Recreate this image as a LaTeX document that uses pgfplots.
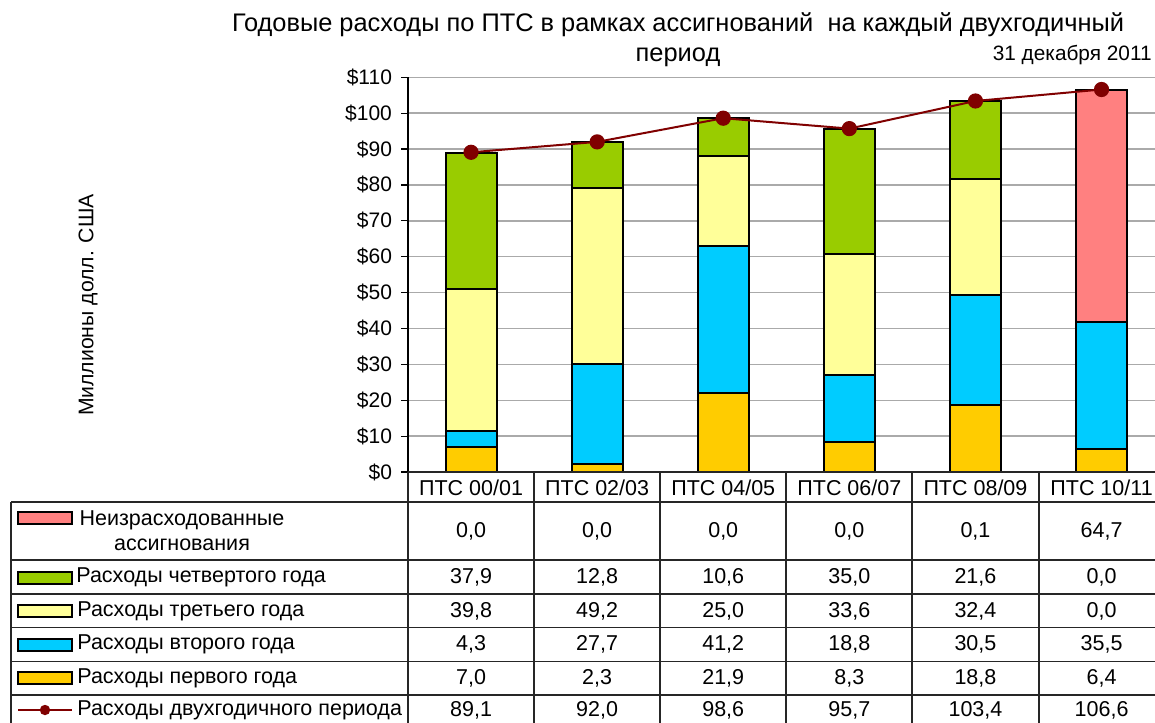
\documentclass[border=0pt]{standalone}
\usepackage{fontspec}
\setmainfont{Liberation Sans}
\usepackage{pgfplots}
\pgfplotsset{compat=1.18}
\usepackage{pgfplotstable}

\definecolor{cPink}{HTML}{FF8080}
\definecolor{cGreen}{HTML}{99CC00}
\definecolor{cYellow}{HTML}{FFFF99}
\definecolor{cCyan}{HTML}{00CCFF}
\definecolor{cGold}{HTML}{FFCC00}
\definecolor{cLine}{HTML}{800000}
\definecolor{cGrid}{RGB}{170,170,170}

\pgfplotstableread{
x first second third fourth unspent total
0 7.0  4.3  39.8 37.9 0.0  89.1
1 2.3  27.7 49.2 12.8 0.0  92.0
2 21.9 41.2 25.0 10.6 0.0  98.6
3 8.3  18.8 33.6 35.0 0.0  95.7
4 18.8 30.5 32.4 21.6 0.1  103.4
5 6.4  35.5 0.0  0.0  64.7 106.6
}\datatable

\newcommand\tf{\fontsize{10.75}{12.5}\selectfont}

\begin{document}
\begin{tikzpicture}
\useasboundingbox[fill=white] (0,0) rectangle (577.5pt,-361pt);
\pgfplotsset{
  common/.style={
    scale only axis, width=378.3pt, height=197.35pt,
    at={(204pt,-236pt)}, anchor=south west,
    xmin=-0.5, xmax=5.5, ymin=0, ymax=110,
  }
}
\begin{axis}[common,
  ybar stacked, bar width=25.5pt,
  axis x line=none, axis y line*=left, axis line style={-, black, line width=0.6pt},
  xtick=\empty,
  ytick={0,10,...,110},
  yticklabels={\$0,\$10,\$20,\$30,\$40,\$50,\$60,\$70,\$80,\$90,\$100,\$110},
  yticklabel style={font=\fontsize{10.5}{12}\selectfont, xshift=-1pt},
  tick align=outside, major tick length=3.5pt,
  tick style={black, line width=0.6pt},
  ymajorgrids, grid style={cGrid, line width=0.7pt},
  every axis plot/.append style={draw=black, line width=1pt},
]
\addplot[fill=cGold]   table[x=x,y=first]{\datatable};
\addplot[fill=cCyan]   table[x=x,y=second]{\datatable};
\addplot[fill=cYellow] table[x=x,y=third]{\datatable};
\addplot[fill=cGreen]  table[x=x,y=fourth]{\datatable};
\addplot[fill=cPink]   table[x=x,y=unspent]{\datatable};
\end{axis}
\begin{axis}[common, hide axis]
\addplot[cLine, line width=1pt, mark=*, mark size=3.3pt, mark options={fill=cLine, draw=cLine}]
  table[x=x,y=total]{\datatable};
\end{axis}

\begin{scope}[x=0.5pt, y=-0.5pt]
% title
\node[font=\fontsize{12.7}{15}\selectfont] at (678,25) {Годовые расходы по ПТС в рамках ассигнований\ \ на каждый двухгодичный};
\node[font=\fontsize{12.7}{15}\selectfont] at (678,57) {период};
\node[font=\fontsize{10.4}{12}\selectfont, anchor=east, inner sep=0pt] at (1152,55) {31 декабря 2011};
% y label
\node[font=\fontsize{10.6}{12}\selectfont, rotate=90] at (88,305) {Миллионы долл. США};
% table grid
\draw[black!85, line width=0.6pt] (408,472) -- (1165,472);
\foreach \yy in {502,560,594,627.5,661.5,695} \draw[black!85, line width=0.6pt] (11,\yy) -- (1165,\yy);
\draw[black!85, line width=0.6pt] (11,502) -- (11,730);
\foreach \xx in {408,534,660,786,912,1039,1165} \draw[black!85, line width=0.6pt] (\xx,472) -- (\xx,730);
% headers
\foreach \lab [count=\i from 0] in {ПТС 00/01,ПТС 02/03,ПТС 04/05,ПТС 06/07,ПТС 08/09,ПТС 10/11}
  \node[font=\tf] at ({408+126.1*(\i+0.5)},488) {\lab};
% values
\foreach \col/\yy in {unspent/531,fourth/577,third/611,second/644.5,first/678,total/710}{
  \foreach \i in {0,...,5}{
    \pgfplotstablegetelem{\i}{\col}\of\datatable
    \node[font=\tf] at ({408+126.1*(\i+0.5)},\yy)
      {\pgfmathprintnumber[fixed, fixed zerofill, precision=1, use comma, assume math mode=true]{\pgfplotsretval}};
  }
}
% legend keys
\draw[fill=cPink,   line width=1pt] (18,512) rectangle (72,524);
\draw[fill=cGreen,  line width=1pt] (18,571.5) rectangle (72,583.5);
\draw[fill=cYellow, line width=1pt] (18,605) rectangle (72,617);
\draw[fill=cCyan,   line width=1pt] (18,638.5) rectangle (72,650.5);
\draw[fill=cGold,   line width=1pt] (18,672) rectangle (72,684);
\draw[cLine, line width=1pt] (18,710) -- (72,710);
\fill[cLine] (45,710) circle (2.6pt);
% legend texts
\node[font=\tf, align=center] at (182,531) {Неизрасходованные\\ассигнования};
\node[font=\tf, anchor=west, inner sep=0pt] at (76,577) {Расходы\ четвертого года};
\node[font=\tf, anchor=west, inner sep=0pt] at (77,611) {Расходы\ третьего года};
\node[font=\tf, anchor=west, inner sep=0pt] at (77,644.5) {Расходы\ второго года};
\node[font=\tf, anchor=west, inner sep=0pt] at (77,678) {Расходы\ первого года};
\node[font=\tf, anchor=west, inner sep=0pt] at (77,710) {Расходы\ двухгодичного периода};
\end{scope}
\end{tikzpicture}
\end{document}
